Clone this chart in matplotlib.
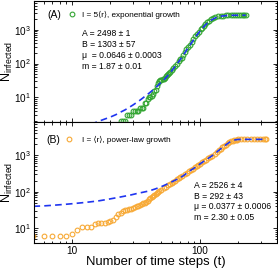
import matplotlib
matplotlib.use("Agg")
import matplotlib.pyplot as plt

plt.rcParams['font.family'] = ['Liberation Sans', 'DejaVu Sans']
plt.rcParams['mathtext.fontset'] = 'custom'
plt.rcParams['mathtext.rm'] = 'Liberation Sans'
plt.rcParams['mathtext.it'] = 'Liberation Sans:italic'

# (A) exponential growth: simulation points
t_a = [24, 25, 26, 27, 28, 29, 30, 31, 32, 33, 34, 35, 36, 37, 38, 39, 40, 41, 42, 43,
       44, 45, 46, 47, 48, 49, 50, 51, 52, 53, 54, 55, 56, 57, 58, 60, 62, 64, 66, 68,
       70, 72, 74, 76, 78, 80, 83, 86, 89, 92, 95, 98, 101, 104, 107, 110, 114, 118,
       122, 127, 132, 138, 145, 152, 160, 167, 174, 181, 188, 195, 202, 209, 216, 222, 228]
n_a = [2, 2, 2, 3, 3, 3, 4, 4, 4, 4, 5, 5, 5, 7, 7, 9, 10, 10, 11, 13,
       15, 17, 22, 27, 30, 32, 33, 34, 35, 38, 42, 46, 50, 54, 58, 64, 72, 86, 100, 115,
       134, 150, 180, 225, 265, 300, 360, 430, 520, 630, 750, 880, 1010, 1150, 1300, 1450, 1650, 1850,
       2020, 2200, 2350, 2460, 2540, 2590, 2620, 2635, 2645, 2650, 2655, 2660, 2660, 2660, 2660, 2660, 2660]

# (A) fitted curve
tf_a = [14, 16, 18, 20, 22, 24, 26, 28, 30, 32, 34, 36, 38, 40, 42, 44, 46, 48, 50, 53,
        56, 60, 64, 68, 72, 76, 80, 85, 90, 95, 100, 105, 110, 115, 120, 125, 130, 135,
        140, 150, 160, 175, 190, 210, 228]
nf_a = [1.6, 1.95, 2.3, 2.65, 3.1, 3.7, 4.3, 5.1, 6.0, 7.1, 8.3, 9.8, 11.5, 13.3, 15.5, 18, 21, 24.5, 28.5, 35,
        44, 60, 82, 112, 150, 205, 275, 385, 525, 705, 900, 1120, 1360, 1590, 1800, 1990, 2160, 2300,
        2400, 2530, 2600, 2645, 2655, 2660, 2660]

# (B) power-law growth: simulation points
t_b = [5, 6, 7, 8, 9, 10, 11, 12, 13, 14, 15, 16, 17, 18, 19, 20, 21, 22, 23, 24,
       25, 26, 27, 28, 29, 30, 31, 32, 33, 34, 35, 36, 37, 38, 39, 40, 41, 42, 43, 44,
       45, 46, 47, 48, 50, 52, 54, 56, 58, 60, 62, 64, 66, 68, 70, 73, 76, 79, 82, 85,
       88, 91, 94, 97, 100, 104, 108, 112, 116, 120, 125, 130, 135, 140, 145, 150, 155,
       160, 165, 170, 175, 180, 185, 190, 195, 200, 210, 220, 235, 250, 265, 280, 295, 310, 320, 330]
n_b = [6, 6, 6, 6, 6, 7, 9, 11, 11, 11, 13, 14, 14, 14, 15, 16, 17, 21, 24, 26,
       29, 31, 32, 33, 34, 36, 38, 40, 42, 44, 46, 48, 50, 53, 57, 62, 67, 72, 77, 82,
       87, 92, 97, 105, 115, 125, 137, 150, 162, 175, 188, 202, 217, 232, 248, 272, 300, 328, 358, 390,
       425, 460, 495, 535, 575, 630, 690, 750, 815, 880, 970, 1080, 1220, 1340, 1480, 1630, 1780,
       1930, 2080, 2250, 2380, 2490, 2570, 2630, 2660, 2680, 2700, 2700, 2700, 2700, 2700, 2700, 2700, 2700, 2700, 2700]

# (B) fitted curve
tf_b = [5, 6, 7, 8, 9, 10, 12, 14, 16, 18, 20, 23, 26, 29, 32, 36, 40, 45, 50, 55,
        60, 65, 70, 75, 80, 85, 90, 95, 100, 110, 120, 130, 140, 150, 160, 170, 180,
        190, 200, 220, 260, 330]
nf_b = [40, 41, 42.5, 44, 45.5, 47, 50, 53, 56, 60, 64, 70, 76, 82, 89, 97, 105, 120, 138, 160,
        185, 212, 242, 280, 335, 390, 440, 500, 575, 720, 880, 1080, 1340, 1630, 1930, 2250, 2490,
        2630, 2680, 2700, 2700, 2700]

labels = ["I = 5\u27e8r\u27e9, exponential growth", "I = \u27e8r\u27e9, power-law growth"]
params_a = "A = 2498 \u00b1 1\nB = 1303 \u00b1 57\n\u03bc  = 0.0646 \u00b1 0.0003\nm = 1.87 \u00b1 0.01"
params_b = "A = 2526 \u00b1 4\nB = 292 \u00b1 43\n\u03bc = 0.0377 \u00b1 0.0006\nm = 2.30 \u00b1 0.05"

green = '#33a532'
orange = '#f7a935'
blue = '#1f35f0'

fig = plt.figure(figsize=(2.78, 2.68), dpi=100)
ax1 = fig.add_axes([0.1223, 0.5437, 0.8741, 0.4526])
ax2 = fig.add_axes([0.1223, 0.0922, 0.8741, 0.4515], sharex=ax1)

ax1.plot(t_a, n_a, 'o', mfc='none', mec=green, ms=3.4, mew=0.8, label=labels[0])
ax1.plot(tf_a, nf_a, '--', color=blue, lw=1.2, dashes=(4, 2.5))
ax2.plot(t_b, n_b, 'o', mfc='none', mec=orange, ms=3.4, mew=0.8, label=labels[1])
ax2.plot(tf_b, nf_b, '--', color=blue, lw=1.2, dashes=(4, 2.5))

for ax in (ax1, ax2):
    ax.set_xscale('log')
    ax.set_yscale('log')
    ax.tick_params(which='both', direction='in', top=True, right=True, labelsize=7.2, width=0.6, pad=2)
    ax.tick_params(which='major', length=3.2)
    ax.tick_params(which='minor', length=1.8)
    for s in ax.spines.values():
        s.set_linewidth(0.8)
    ax.set_ylabel(r"$\mathrm{N_{infected}}$", fontsize=9)
    ax.yaxis.set_label_coords(-0.08, 0.5)

ax1.set_xlim(5.05, 400)
ax1.set_ylim(1.85, 7000)
ax2.set_ylim(3.9, 7900)
ax1.tick_params(labelbottom=False)
ax2.set_xticks([10, 100])
ax2.set_xticklabels(['10', '100'])
ax2.set_xlabel("Number of time steps (t)", fontsize=9.4, labelpad=0)

ax1.text(0.082, 0.885, "(A)", transform=ax1.transAxes, fontsize=7.5, ha='center', va='center')
ax2.text(0.078, 0.854, "(B)", transform=ax2.transAxes, fontsize=7.5, ha='center', va='center')

ax1.legend(loc='center left', bbox_to_anchor=(0.139, 0.885), frameon=False, fontsize=5.9,
           handlelength=1, handletextpad=0.7, borderpad=0, borderaxespad=0)
ax2.legend(loc='center left', bbox_to_anchor=(0.128, 0.854), frameon=False, fontsize=5.9,
           handlelength=1, handletextpad=1.05, borderpad=0, borderaxespad=0)

ax1.text(0.196, 0.765, params_a, transform=ax1.transAxes, fontsize=6.2, va='top', ha='left',
         linespacing=1.25)
ax2.text(0.66, 0.515, params_b, transform=ax2.transAxes, fontsize=6.2, va='top', ha='left',
         linespacing=1.25)

fig.savefig("out.png", dpi=100)
